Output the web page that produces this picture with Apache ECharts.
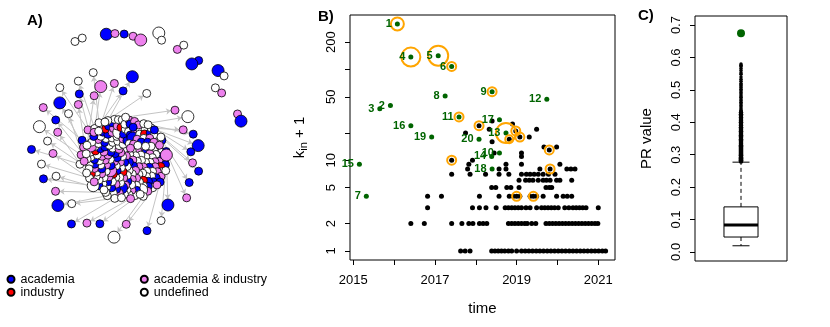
<!DOCTYPE html>
<html>
<head>
<meta charset="utf-8">
<script src="https://cdn.jsdelivr.net/npm/echarts@6/dist/echarts.min.js"></script>
<style>
  html, body { margin: 0; padding: 0; background: #fff; }
  #chart { width: 830px; height: 327px; }
</style>
</head>
<body>
<div id="chart"></div>
<script>
// ---------- A) network ----------
const nodeTypes = ['academia', 'industry', 'academia & industry', 'undefined']
const typeColors = ['#0000ff', '#ff0000', '#ee82ee', '#ffffff']
const typeCode = { b: 0, r: 1, p: 2, w: 3 }

// one letter per node of the dense core (upper case = bigger node)
const coreNodes =
  'wpbwwpbwpw' + 'bwpwwpbwrw' + 'pwbwpwwbpw' + 'wbpwPwbwwp' + 'bwwpbwrpwb' +
  'wpwbWpwwbp' + 'pbwwpwbwpw' + 'wwpbwpBwwr' + 'pwbwpwwpbw' + 'bwpwrwbpww' +
  'wPwbwpwwbp' + 'wbwpwbwpwr' + 'pwwbpwWbwp' + 'bwpwwpbwpw' + 'wrbwpwPwbw' +
  'pwbwwpbwwp' + 'wbpwbwwrpw' + 'pwwbwpbwWp' + 'bpwwrwpbww' + 'wbwpwwbpwb' +
  'pwBwpwwbwr' + 'wpbwwpwbpw' + 'bwwpbwpwwp'

// nodes hanging off the core: [type, core node it is linked to, weight]
const outerNodes = [
  ['b', 10, 1.25], ['p', 22, 1.3], ['B', 34, 1.2],
  ['w', 48, 1.3], ['b', 58, 1.35], ['p', 68, 1.25], ['W', 78, 1.4], ['b', 86, 1.3],
  ['p', 92, 1.35], ['b', 98, 1.45], ['w', 104, 1.3], ['B', 110, 1.4], ['p', 116, 1.35],
  ['w', 121, 1.3], ['b', 126, 1.4],
  ['w', 131, 1.4], ['p', 135, 1.3], ['b', 139, 1.5], ['w', 143, 1.35], ['p', 147, 1.3],
  ['W', 150, 1.45], ['b', 153, 1.35], ['p', 156, 1.5], ['w', 159, 1.3], ['B', 162, 1.4],
  ['p', 165, 1.3], ['w', 168, 1.5], ['b', 171, 1.35], ['p', 174, 1.3], ['w', 177, 1.45],
  ['P', 180, 1.35], ['w', 183, 1.5], ['b', 186, 1.3],
  ['p', 190, 1.35], ['B', 194, 1.45], ['w', 198, 1.3], ['p', 201, 1.3], ['W', 204, 1.35],
  ['p', 207, 1.25], ['b', 210, 1.3],
  ['B', 214, 1.3], ['b', 219, 1.25], ['p', 224, 1.25], ['b', 228, 1.3]
]

// small components not connected to the core
const islands = ['ww', 'BpbpP', 'Ww', 'pw', 'bB', 'wp', 'Bw', 'pB']
const islandsAfter = 199

// ---------- B) in-degree vs time ----------
const yearTicks = [2015, 2016, 2017, 2018, 2019, 2020, 2021]
const yearLabels = [2015, 2017, 2019, 2021]
const kinTicks = [1, 2, 5, 10, 20, 50, 100, 200]
const kinLabels = [1, 2, 5, 10, 50, 200]

const yearsAt1 = [2017.63, 2017.74, 2017.86, 2018.39, 2018.47, 2018.55, 2018.63, 2018.71, 2018.80, 2018.88,
  2019.00, 2019.12, 2019.21, 2019.30, 2019.39, 2019.48, 2019.57, 2019.66, 2019.75, 2019.84, 2019.93,
  2020.02, 2020.11, 2020.20, 2020.29, 2020.38, 2020.47, 2020.56, 2020.65, 2020.74, 2020.83, 2020.92,
  2021.01, 2021.10, 2021.18]
const yearsAt2 = [2016.41, 2016.74, 2017.41, 2017.66, 2017.83, 2017.93, 2018.09, 2018.18, 2018.27,
  2018.80, 2018.88, 2018.96, 2019.04, 2019.12, 2019.20, 2019.26, 2019.37, 2019.47,
  2019.72, 2019.80, 2019.88, 2019.96, 2020.04, 2020.12, 2020.20, 2020.28, 2020.36, 2020.44, 2020.52,
  2020.60, 2020.68, 2020.76, 2020.84, 2020.92, 2020.99]
const yearsAt3 = [2016.82, 2017.92, 2018.09, 2018.25, 2018.50, 2018.72, 2018.80, 2018.88, 2018.96, 2019.04,
  2019.12, 2019.23, 2019.33, 2019.49, 2019.61, 2019.69, 2019.77, 2019.85, 2019.93, 2020.02, 2020.18,
  2020.28, 2020.38, 2020.46, 2020.54, 2020.62, 2020.70, 2021.00]
const yearsAt4 = [2016.82, 2017.16, 2018.09, 2018.57, 2018.82, 2018.92, 2019.00, 2019.08, 2019.33, 2019.41,
  2019.49, 2019.65, 2019.98, 2020.14, 2020.24, 2020.35]
const yearsAt5 = [2018.39, 2018.49, 2018.76, 2018.86, 2019.06, 2019.72, 2019.80, 2019.86]
const yearsAt6 = [2019.06, 2019.22, 2019.31, 2019.40, 2019.53, 2019.65, 2019.73, 2019.82, 2019.98, 2020.06, 2020.35]
const yearsAt7 = [2017.41, 2017.86, 2018.24, 2018.57, 2018.81, 2019.12, 2019.24, 2019.33, 2019.43, 2019.53,
  2019.65, 2019.78, 2019.94]
const yearsAt8 = [2017.80, 2018.57, 2018.74, 2019.57, 2019.82, 2020.23, 2020.33, 2020.43]
const yearsAt9 = [2017.83, 2018.74, 2019.12, 2020.06]
const yearsAt10 = [2017.41, 2017.92]
const otherPapers = [[2018.45, 12], [2019.12, 12], [2019.12, 11], [2019.67, 14], [2019.80, 13], [2019.98, 14],
  [2017.75, 20], [2018.08, 24], [2018.40, 27], [2018.33, 22], [2018.40, 16], [2018.90, 25], [2018.98, 21],
  [2018.82, 17], [2019.08, 18], [2019.31, 18], [2019.49, 22]]

// the 20 top ranked papers, numbered 1..20
const topYears = [2016.08, 2015.91, 2015.65, 2016.41, 2017.08, 2017.41, 2015.32, 2017.25, 2018.40, 2018.58,
  2017.59, 2019.74, 2018.74, 2018.39, 2015.15, 2016.41, 2018.58, 2018.40, 2016.92, 2018.08]
const topKin = [318, 40, 37, 137, 142, 108, 4, 51, 57, 12, 30, 47, 20, 11, 9, 24, 28, 8, 18, 17]

// orange circles: [time, k_in + 1, circle size]
const circled = [[2016.08, 318, 13], [2016.41, 137, 19], [2017.08, 142, 20], [2017.41, 108, 9],
  [2018.40, 57, 9], [2017.59, 30, 9], [2018.74, 20, 20], [2018.08, 24, 9], [2018.98, 21, 9],
  [2018.82, 17, 8], [2019.08, 18, 9], [2019.80, 13, 9], [2017.41, 10, 9], [2019.82, 8, 9],
  [2019.00, 4, 9], [2019.41, 4, 9]]

// ---------- C) PageRank ----------
const prTicks = [0, 0.1, 0.2, 0.3, 0.4, 0.5, 0.6, 0.7]
const prBox = [0.019, 0.046, 0.083, 0.139, 0.277] // min, q1, median, q3, max
const prTop = 0.675
const prOutDense = [0.279, 0.281, 0.283, 0.285, 0.287, 0.289, 0.291, 0.293, 0.296, 0.298, 0.301, 0.304,
  0.307, 0.310, 0.313, 0.316, 0.319, 0.322, 0.326, 0.329, 0.333, 0.336, 0.340, 0.344, 0.348, 0.352,
  0.356, 0.360, 0.364, 0.368, 0.372, 0.376, 0.380, 0.385, 0.390, 0.395, 0.400, 0.405, 0.410, 0.415,
  0.420, 0.425, 0.430]
const prOutSparse = [0.433, 0.437, 0.442, 0.447, 0.452, 0.457, 0.462, 0.467, 0.472, 0.477, 0.482, 0.487,
  0.492, 0.497, 0.502, 0.507, 0.512, 0.516, 0.520, 0.527, 0.533, 0.540, 0.548, 0.553, 0.560, 0.566,
  0.572, 0.576, 0.580]

// ---------- build network ----------
const nodes = []
const links = []
function addNode(code, weight) {
  const lower = code.toLowerCase()
  nodes.push({
    category: typeCode[lower],
    value: weight,
    symbolSize: code === lower ? 8 : 12
  })
  return nodes.length - 1
}
for (let i = 0; i < coreNodes.length; i++) {
  const c = addNode(coreNodes[i], 1)
  outerNodes.forEach(o => {
    if (o[1] === i) {
      const k = addNode(o[0], o[2])
      links.push({ source: c, target: k, value: 1 })
    }
  })
  if (i === islandsAfter) {
    islands.forEach(s => {
      let prev = -1
      for (const ch of s) {
        const k = addNode(ch, 2)
        if (prev >= 0) links.push({ source: prev, target: k, value: 3 })
        prev = k
      }
    })
  }
}

// ---------- build panel B data ----------
const blackPoints = []
;[[1, yearsAt1], [2, yearsAt2], [3, yearsAt3], [4, yearsAt4], [5, yearsAt5], [6, yearsAt6],
  [7, yearsAt7], [8, yearsAt8], [9, yearsAt9], [10, yearsAt10]].forEach(([k, ys]) => {
  ys.forEach(y => blackPoints.push([y, k]))
})
otherPapers.forEach(p => blackPoints.push(p))
const topData = topYears.map((y, i) => ({ name: String(i + 1), value: [y, topKin[i]] }))
const ringData = circled.map(r => ({ value: [r[0], r[1]], symbolSize: r[2] }))

const FONT = 'Liberation Sans'
const GREEN = '#006400'

const chart = echarts.init(document.getElementById('chart'))
chart.setOption({
  animation: false,
  backgroundColor: '#fff',
  textStyle: { fontFamily: FONT, color: '#000' },
  graphic: [
    { type: 'text', left: 27, top: 13, style: { text: 'A)', fontSize: 15, fontWeight: 'bold', fontFamily: FONT, fill: '#000' } },
    { type: 'text', left: 318, top: 9, style: { text: 'B)', fontSize: 15, fontWeight: 'bold', fontFamily: FONT, fill: '#000' } },
    { type: 'text', left: 638, top: 8, style: { text: 'C)', fontSize: 15, fontWeight: 'bold', fontFamily: FONT, fill: '#000' } }
  ],
  legend: [
    {
      left: 6.5, top: 272.8, orient: 'vertical', padding: 0, itemGap: 0,
      itemWidth: 9, itemHeight: 7, icon: 'circle', selectedMode: false,
      data: ['academia', 'industry'],
      textStyle: { fontSize: 12.5, color: '#000', lineHeight: 13, fontFamily: FONT }
    },
    {
      left: 139.8, top: 272.8, orient: 'vertical', padding: 0, itemGap: 0,
      itemWidth: 9, itemHeight: 7, icon: 'circle', selectedMode: false,
      data: ['academia & industry', 'undefined'],
      textStyle: { fontSize: 12.5, color: '#000', lineHeight: 13, fontFamily: FONT }
    }
  ],
  grid: [
    { left: 350, top: 15, width: 265, height: 245, show: true, borderColor: '#000', borderWidth: 1, outerBoundsMode: 'none' },
    { left: 695, top: 16, width: 92, height: 245, show: true, borderColor: '#000', borderWidth: 1, outerBoundsMode: 'none' }
  ],
  xAxis: [
    {
      gridIndex: 0, type: 'value', min: 2014.92, max: 2021.41,
      axisLine: { show: false },
      axisTick: { show: true, customValues: yearTicks, length: 5, lineStyle: { color: '#000' } },
      axisLabel: { customValues: yearLabels, color: '#000', fontSize: 13, margin: 14, formatter: v => String(Math.round(v)) },
      splitLine: { show: false },
      name: 'time', nameLocation: 'middle', nameGap: 41,
      nameTextStyle: { fontSize: 15, color: '#000' }
    },
    {
      gridIndex: 1, type: 'category', data: ['PR'], show: false
    }
  ],
  yAxis: [
    {
      gridIndex: 0, type: 'log', logBase: 10, min: 0.794, max: 399,
      axisLine: { show: false },
      axisTick: { show: true, customValues: kinTicks, length: 5, lineStyle: { color: '#000' } },
      axisLabel: { customValues: kinLabels, rotate: 90, color: '#000', fontSize: 13, margin: 12, formatter: v => String(Math.round(v)) },
      splitLine: { show: false },
      minorTick: { show: false },
      name: '{k|k}{s|in}{k| + 1}', nameLocation: 'middle', nameGap: 41, nameRotate: 90,
      nameTextStyle: {
        color: '#000',
        rich: {
          k: { fontSize: 15, color: '#000' },
          s: { fontSize: 11, color: '#000', padding: [8, 0, 0, 0] }
        }
      }
    },
    {
      gridIndex: 1, type: 'value', min: -0.028, max: 0.728,
      axisLine: { show: false },
      axisTick: { show: true, customValues: prTicks, length: 5, lineStyle: { color: '#000' } },
      axisLabel: { customValues: prTicks, rotate: 90, color: '#000', fontSize: 13, margin: 12, formatter: v => v.toFixed(1) },
      splitLine: { show: false },
      name: 'PR value', nameLocation: 'middle', nameGap: 41, nameRotate: 90,
      nameTextStyle: { fontSize: 15, color: '#000' }
    }
  ],
  series: [
    {
      type: 'graph',
      layout: 'force',
      left: 5, top: 30, width: 240, height: 240,
      roam: false,
      draggable: false,
      categories: nodeTypes.map((n, i) => ({
        name: n, itemStyle: { color: typeColors[i], borderColor: '#000', borderWidth: 0.8 }
      })),
      data: nodes,
      links: links,
      itemStyle: { borderColor: '#000', borderWidth: 0.8 },
      lineStyle: { color: '#c4c4c4', width: 1, opacity: 1, curveness: 0 },
      edgeSymbol: ['none', 'arrow'],
      edgeSymbolSize: 5,
      label: { show: false },
      emphasis: { disabled: true },
      force: {
        initLayout: 'circular',
        repulsion: [0.42, 4.6],
        gravity: 0.1,
        edgeLength: [6, 50],
        friction: 0.3,
        layoutAnimation: false
      }
    },
    {
      type: 'scatter', xAxisIndex: 0, yAxisIndex: 0,
      data: blackPoints, symbolSize: 5,
      itemStyle: { color: '#000', opacity: 1 },
      emphasis: { disabled: true }
    },
    {
      type: 'scatter', xAxisIndex: 0, yAxisIndex: 0,
      data: topData, symbolSize: 5,
      itemStyle: { color: GREEN, opacity: 1 },
      label: {
        show: true, position: 'left', distance: 3, formatter: '{b}',
        color: GREEN, fontSize: 11, fontWeight: 'bold', fontFamily: FONT
      },
      labelLayout: { hideOverlap: false },
      emphasis: { disabled: true }
    },
    {
      type: 'scatter', xAxisIndex: 0, yAxisIndex: 0,
      data: ringData,
      itemStyle: { color: 'rgba(0,0,0,0)', borderColor: '#ffa500', borderWidth: 2, opacity: 1 },
      emphasis: { disabled: true }
    },
    {
      type: 'scatter', xAxisIndex: 1, yAxisIndex: 1,
      data: prOutDense.map(v => ['PR', v]), symbolSize: 4.5,
      itemStyle: { color: '#000', opacity: 1 },
      emphasis: { disabled: true }
    },
    {
      type: 'scatter', xAxisIndex: 1, yAxisIndex: 1,
      data: prOutSparse.map(v => ['PR', v]), symbolSize: 3.5,
      itemStyle: { color: '#000', opacity: 1 },
      emphasis: { disabled: true }
    },
    {
      type: 'custom', xAxisIndex: 1, yAxisIndex: 1,
      data: [[0].concat(prBox)],
      encode: { x: 0, y: [1, 2, 3, 4, 5] },
      renderItem: function (params, api) {
        const x = api.coord([api.value(0), 0])[0]
        const half = api.size([1, 0])[0] * 0.185
        const yAt = i => api.coord([api.value(0), api.value(i)])[1]
        const yMin = yAt(1), yQ1 = yAt(2), yMed = yAt(3), yQ3 = yAt(4), yMax = yAt(5)
        const dashed = { stroke: '#000', lineWidth: 1, lineDash: [4, 3] }
        const solid = { stroke: '#000', lineWidth: 1 }
        return {
          type: 'group',
          children: [
            { type: 'line', shape: { x1: x, y1: yQ3, x2: x, y2: yMax }, style: dashed },
            { type: 'line', shape: { x1: x, y1: yQ1, x2: x, y2: yMin }, style: dashed },
            { type: 'line', shape: { x1: x - half / 2, y1: yMax, x2: x + half / 2, y2: yMax }, style: solid },
            { type: 'line', shape: { x1: x - half / 2, y1: yMin, x2: x + half / 2, y2: yMin }, style: solid },
            { type: 'rect', shape: { x: x - half, y: yQ3, width: 2 * half, height: yQ1 - yQ3 }, style: { fill: '#fff', stroke: '#000', lineWidth: 1 } },
            { type: 'line', shape: { x1: x - half, y1: yMed, x2: x + half, y2: yMed }, style: { stroke: '#000', lineWidth: 3 } }
          ]
        }
      }
    },
    {
      type: 'scatter', xAxisIndex: 1, yAxisIndex: 1,
      data: [['PR', prTop]], symbolSize: 8,
      itemStyle: { color: GREEN, opacity: 1 },
      emphasis: { disabled: true }
    }
  ]
})
</script>
</body>
</html>
